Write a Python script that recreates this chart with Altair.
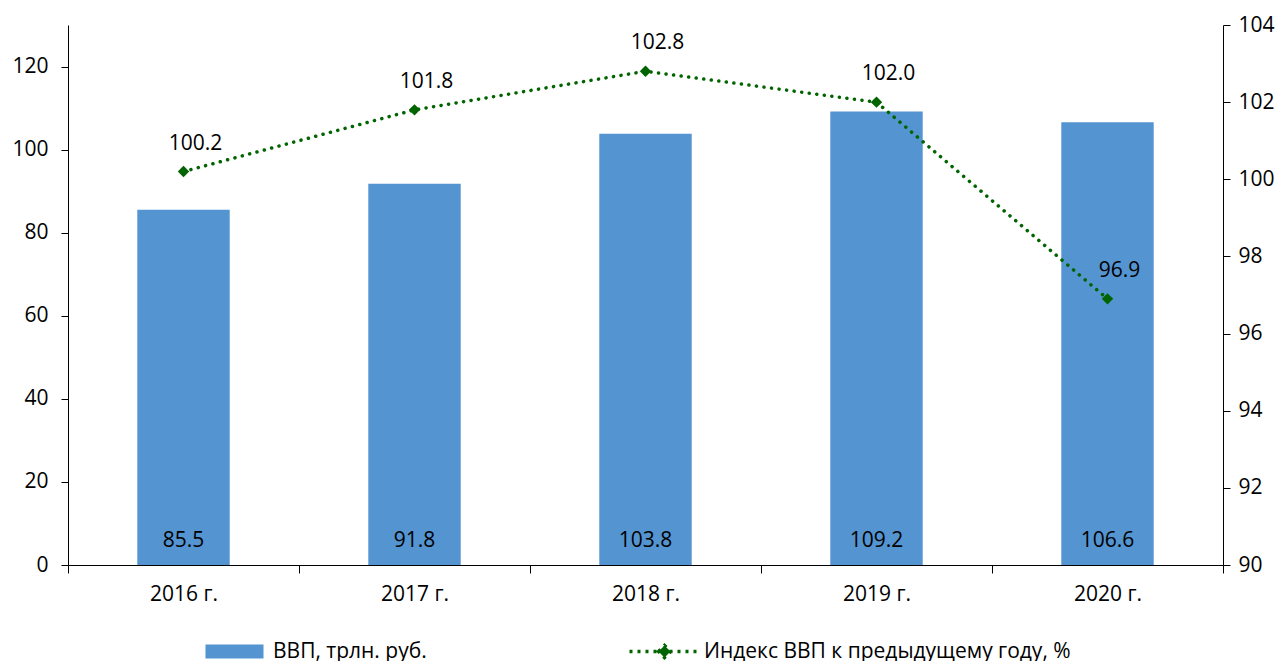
import altair as alt
import pandas as pd

years = ["2016 г.", "2017 г.", "2018 г.", "2019 г.", "2020 г."]
gdp = [85.5, 91.8, 103.8, 109.2, 106.6]
gdp_index = [100.2, 101.8, 102.8, 102.0, 96.9]
bar_name = "ВВП, трлн. руб."
line_name = "Индекс ВВП к предыдущему году, %"

df = pd.DataFrame({
    "year": years,
    "gdp": gdp,
    "idx": gdp_index,
    "bar_s": [bar_name] * len(years),
    "line_s": [line_name] * len(years),
})

BLUE = "#5394D1"
GREEN = "#006400"
FONT = "Open Sans"
FS = 21

base = alt.Chart(df)

x = alt.X("year:N", sort=years,
          scale=alt.Scale(paddingInner=0, paddingOuter=0),
          axis=alt.Axis(title=None, labelAngle=0, tickBand="extent",
                        tickSize=8, labelPadding=10))

bars = base.mark_bar(width=alt.RelativeBandSize(0.4)).encode(
    x=x,
    y=alt.Y("gdp:Q", scale=alt.Scale(domain=[0, 130], nice=False),
            axis=alt.Axis(title=None, orient="left", values=[0, 20, 40, 60, 80, 100, 120],
                          tickSize=7, labelPadding=13)),
    fill=alt.Fill("bar_s:N", scale=alt.Scale(domain=[bar_name], range=[BLUE]),
                  legend=alt.Legend(title=None, orient="none", legendX=156, legendY=616,
                                    symbolType="M-9.67,-2.33H9.67V2.33H-9.67Z", symbolSize=36,
                                    symbolStrokeWidth=0, labelFontSize=FS, labelFont=FONT,
                                    labelColor="black", labelOffset=28, labelLimit=600)),
)

bar_text = base.mark_text(baseline="middle", dy=-24, font=FONT, fontSize=FS, color="black").encode(
    x=x,
    y=alt.datum(0),
    text=alt.Text("gdp:Q", format=".1f"),
)

left = alt.layer(bars, bar_text)

yr = alt.Y("idx:Q", scale=alt.Scale(domain=[90, 104], nice=False),
           axis=alt.Axis(title=None, orient="right", values=[90, 92, 94, 96, 98, 100, 102, 104],
                         tickSize=7, labelPadding=8))

line = base.mark_line(strokeWidth=3.5, strokeDash=[0.1, 7.5], strokeCap="round").encode(
    x=x,
    y=yr,
    stroke=alt.Stroke("line_s:N", scale=alt.Scale(domain=[line_name], range=[GREEN]),
                      legend=alt.Legend(title=None, orient="none", legendX=586, legendY=616,
                                        symbolType="M-11.67,0H11.67M-2,0L0,-2L2,0L0,2Z",
                                        symbolSize=36, symbolStrokeWidth=3.5,
                                        symbolDash=[3, 5], symbolFillColor=GREEN,
                                        symbolStrokeColor=GREEN,
                                        labelFontSize=FS, labelFont=FONT,
                                        labelColor="black", labelOffset=29, labelLimit=600)),
)

pts = base.mark_point(shape="diamond", filled=True, size=130, color=GREEN, opacity=1).encode(
    x=x, y=yr)

line_text = base.mark_text(baseline="middle", dy=-28, dx=12, font=FONT, fontSize=FS,
                           color="black").encode(
    x=x, y=yr, text=alt.Text("idx:Q", format=".1f"))

right = alt.layer(line, pts, line_text)

chart = alt.layer(left, right).resolve_scale(y="independent", fill="independent",
                                             stroke="independent").properties(
    width=1155, height=540,
    padding={"left": 3, "top": 6, "right": 2, "bottom": 0},
).configure_view(stroke=None).configure_axis(
    grid=False, domainColor="black", tickColor="black", labelColor="black",
    labelFont=FONT, labelFontSize=FS, domainWidth=1, tickWidth=1,
)

chart.save("out.html", embed_options={"renderer": "svg", "actions": False})
